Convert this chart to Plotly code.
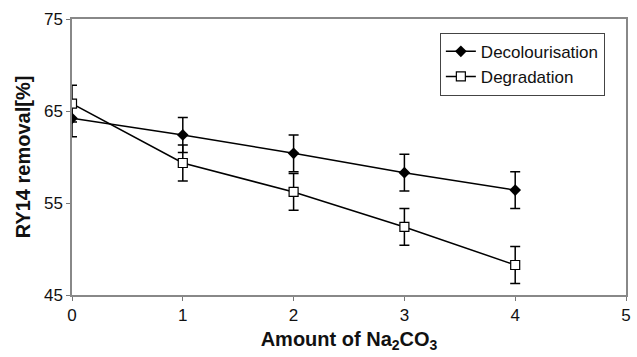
import plotly.graph_objects as go

x_vals = [0, 1, 2, 3, 4]
decol = [64.2, 62.4, 60.4, 58.3, 56.4]
decol_err = [2.0, 1.9, 2.0, 2.0, 2.0]
degr = [65.8, 59.35, 56.2, 52.4, 48.26]
degr_err = [2.0, 1.95, 2.0, 2.0, 2.0]
x_ticks = [0, 1, 2, 3, 4, 5]
y_ticks = [45, 55, 65, 75]

fig = go.Figure()
fig.add_trace(go.Scatter(
    x=x_vals, y=decol, name="Decolourisation", mode="lines+markers",
    line=dict(color="black", width=1.5),
    marker=dict(symbol="diamond", size=9, color="black"),
    error_y=dict(type="data", array=decol_err, color="black", thickness=1.5, width=5),
))
fig.add_trace(go.Scatter(
    x=x_vals, y=degr, name="Degradation", mode="lines+markers",
    line=dict(color="black", width=1.5),
    marker=dict(symbol="square", size=9, color="white", line=dict(color="black", width=1.2)),
    error_y=dict(type="data", array=degr_err, color="black", thickness=1.5, width=5),
))

FONT = "Liberation Sans, Arial, sans-serif"
axis_font = dict(family=FONT, size=17, color="#111")
title_font = dict(family=FONT, size=20, color="#111")
fig.update_layout(
    width=637, height=357,
    margin=dict(l=72, r=6, t=19, b=62),
    paper_bgcolor="white", plot_bgcolor="white",
    showlegend=True,
    legend=dict(x=0.664, y=0.95, xanchor="left", yanchor="top",
                bordercolor="#444", borderwidth=1, bgcolor="white",
                font=dict(family=FONT, size=17, color="#111"),
                tracegroupgap=0, itemwidth=30),
    xaxis=dict(range=[0, 5], tickvals=x_ticks, ticks="outside", ticklen=4,
               tickcolor="#777", showline=True, linecolor="#888", linewidth=1.5,
               mirror=True, showgrid=False, zeroline=False, tickfont=axis_font,
               title=dict(text="<b>Amount of Na<sub>2</sub>CO<sub>3</sub></b>",
                          font=title_font, standoff=8)),
    yaxis=dict(range=[45, 75], tickvals=y_ticks, ticks="outside", ticklen=4,
               tickcolor="#777", showline=True, linecolor="#888", linewidth=1.5,
               mirror=True, showgrid=False, zeroline=False, tickfont=axis_font,
               title=dict(text="<b>RY14 removal[%]</b>",
                          font=title_font, standoff=8)),
)

fig.write_html("out.html")
